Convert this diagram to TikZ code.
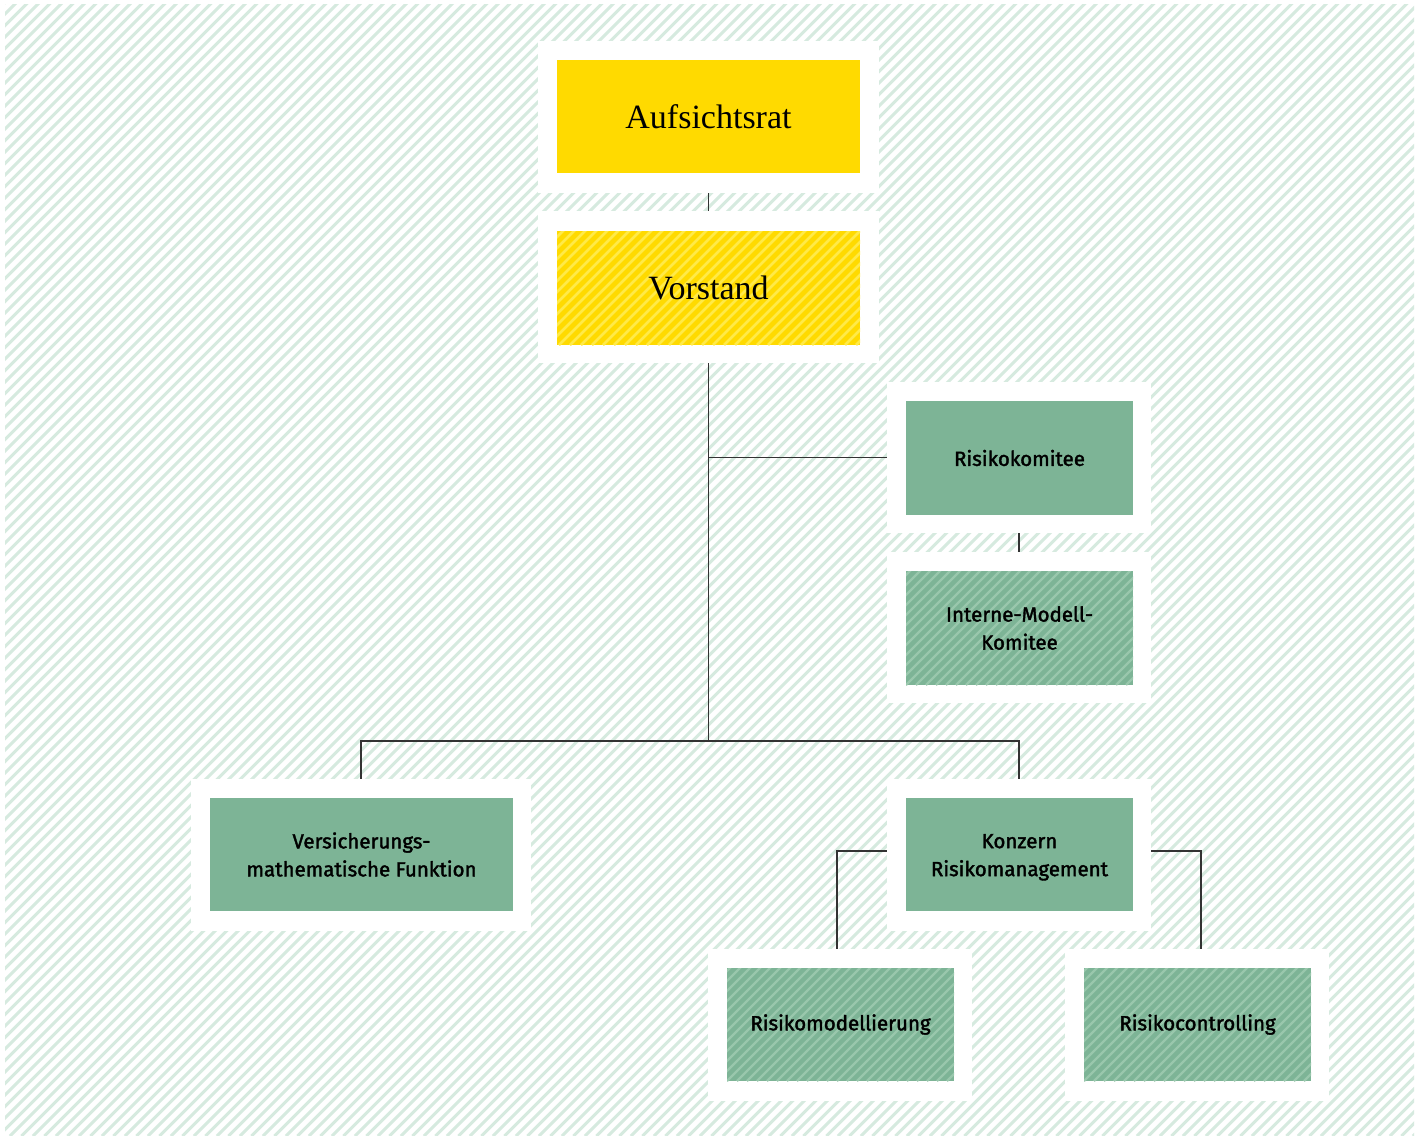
\documentclass[tikz,border=0pt]{standalone}
\usepackage{fontspec}
\setmainfont{Liberation Serif}
\newfontfamily\gfont[FakeBold=1.8]{Fira Sans}
\definecolor{yel}{HTML}{FFDA00}
\definecolor{yelS}{HTML}{FFEA48}
\definecolor{grn}{HTML}{7DB496}
\definecolor{grnS}{HTML}{99C7AC}
\definecolor{bgS}{HTML}{D6EADF}
\definecolor{lineC}{HTML}{333333}
\begin{document}
\begin{tikzpicture}[x=1pt,y=-1pt,
  frame/.style={draw=none, fill=white, inner sep=0pt},
  bigframe/.style={frame, minimum width=341pt, minimum height=152pt},
  smallframe/.style={frame, minimum width=264pt, minimum height=151pt},
  ybox/.style={fill=yel, inner sep=0pt, minimum width=303pt, minimum height=113pt,
     font=\fontsize{34}{40}\selectfont},
  gbox/.style={fill=grn, inner sep=0pt, minimum width=227pt, minimum height=114pt,
     align=center, font=\gfont\fontsize{20.5}{28}\selectfont},
  yhatch/.style={path picture={\foreach \k in {-130,-119,...,320}
     \draw[line width=2.6pt, yelS] ([xshift=\k pt]path picture bounding box.south west) -- ++(150,-150);}},
  ghatch/.style={path picture={\foreach \k in {-130,-120,...,320}
     \draw[line width=2.2pt, grnS] ([xshift=\k pt]path picture bounding box.south west) -- ++(150,-150);}},
  conn/.style={draw=lineC, line width=1.3pt}
]
\useasboundingbox (0,0) rectangle (1424,1136);
\fill[white] (0,0) rectangle (1424,1136);
\begin{scope}
  \clip (5,4) rectangle (1414,1135);
  \foreach \k in {-1140,-1128.5,...,1424}
    \draw[line width=2.9pt, bgS] (\k,1136) -- ++(1136,-1136);
\end{scope}

% frames
\node[bigframe] (fA) at (708.5,117) {};
\node[bigframe] (fV) at (708.5,287) {};
\node[smallframe] (fR) at (1019,457.5) {};
\node[smallframe] (fI) at (1019,627.5) {};
\node[bigframe, minimum width=340pt] (fVM) at (361,855) {};
\node[smallframe, minimum height=152pt] (fK) at (1019,855) {};
\node[smallframe, minimum height=152pt] (fRM) at (840,1025) {};
\node[smallframe, minimum height=152pt] (fRC) at (1197,1025) {};

% boxes
\node[ybox] (A) at (708.5,116.5) {Aufsichtsrat};
\node[ybox, yhatch, minimum height=114pt] (V) at (708.5,288) {Vorstand};
\node[gbox] (R) at (1019.5,458) {Risikokomitee};
\node[gbox, ghatch] (I) at (1019.5,628) {Interne-Modell-\\Komitee};
\node[gbox, minimum width=303pt, minimum height=113pt] (VM) at (361.5,854.5) {Versicherungs-\\mathematische Funktion};
\node[gbox, minimum height=113pt] (K) at (1019.5,854.5) {\strut Konzern\\Risikomanagement};
\node[gbox, ghatch, minimum height=113pt] (RM) at (840.5,1024.5) {Risikomodellierung};
\node[gbox, ghatch, minimum height=113pt] (RC) at (1197.5,1024.5) {Risikocontrolling};

% connectors
\coordinate (bus) at (708.5,741);
\draw[conn] (fA.south) -- (fV.north);
\draw[conn] (fV.south) -- (bus);
\draw[conn] (fV.south |- fR.west) -- (fR.west);
\draw[conn] (fR.south) -- (fI.north);
\draw[conn] (fVM.north) |- (bus) -| (fK.north);
\draw[conn] ([yshift=4pt]fK.west) -| ([xshift=-3pt]fRM.north);
\draw[conn] ([yshift=4pt]fK.east) -| ([xshift=4pt]fRC.north);
\end{tikzpicture}
\end{document}
